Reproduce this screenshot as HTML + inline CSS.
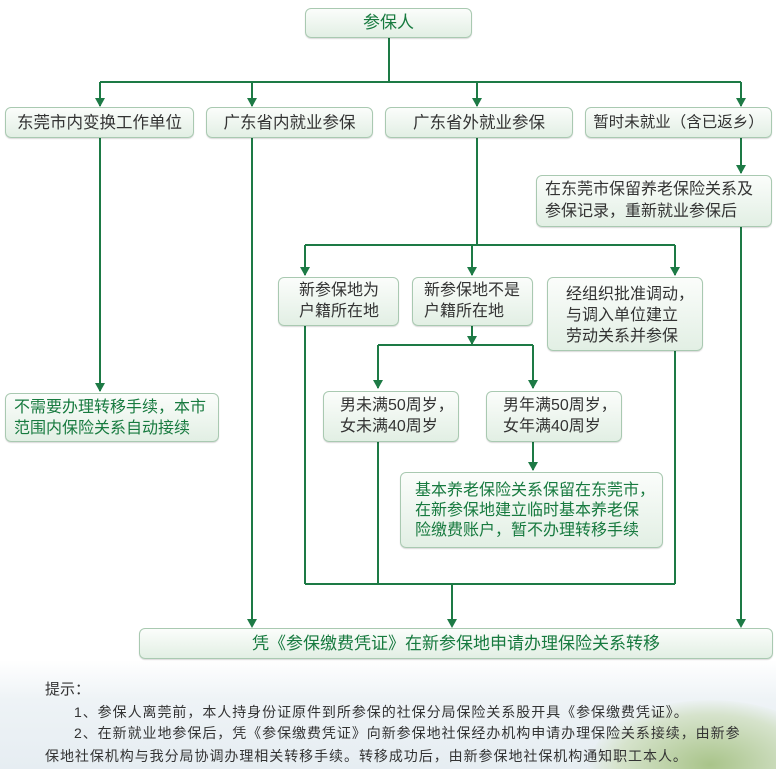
<!DOCTYPE html>
<html style="overflow:hidden;height:769px"><head><meta charset="utf-8"><style>
html,body{margin:0;width:776px;height:769px;overflow:hidden}
body{font-family:"Liberation Sans","Noto Sans CJK SC",sans-serif;position:relative;
background:linear-gradient(#fff 0,#fff 660px,#eef3f6 700px,#e6edf2 769px);}
.b{position:absolute;box-sizing:border-box;border:1px solid #a9c9b1;border-radius:6px;background:linear-gradient(#fbfdfb,#e2efe4);color:#333;font-size:16px;line-height:22px;box-shadow:0 1px 1px rgba(0,0,0,.15);white-space:nowrap}
.c{display:flex;align-items:center;justify-content:center;text-align:center}
.g{color:#177a3f}
svg{position:absolute;left:0;top:0}
.t{position:absolute;font-size:14px;color:#333;line-height:18px;white-space:nowrap;letter-spacing:0.95px}
</style></head><body>
<div style="position:absolute;left:0;top:660px;width:776px;height:109px;overflow:hidden"><div style="position:absolute;left:590px;top:40px;width:240px;height:130px;border-radius:50%;background:radial-gradient(#a9c48a,#d6e3cc 55%,rgba(230,237,242,0) 72%)"></div></div>
<svg width="776" height="769" stroke="#1d7a45" stroke-width="2" fill="none">
<g>
<path d="M389,37V82M100,82H741"/>
<path d="M100,82V106M252,82V106M477,82V106M741,82V106" />
<path d="M741,137V173"/>
<path d="M477,137V245M305,245H675M305,245V275M472,245V275M675,245V275"/>
<path d="M472,325V345M378,345H533M378,345V388M533,345V388"/>
<path d="M533,441V470"/>
<path d="M305,325V584M378,441V584M675,350V584M305,584H675M452,584V626"/>
<path d="M100,137V391M252,137V626M741,226V626"/>
</g>
<g fill="#1d7a45" stroke="none">
<path d="M95,98h10l-5,9z"/><path d="M247,98h10l-5,9z"/><path d="M472,98h10l-5,9z"/><path d="M736,98h10l-5,9z"/>
<path d="M736,165h10l-5,9z"/>
<path d="M300,267h10l-5,9z"/><path d="M467,267h10l-5,9z"/><path d="M670,267h10l-5,9z"/>
<path d="M467,336h10l-5,9z"/>
<path d="M373,380h10l-5,9z"/><path d="M528,380h10l-5,9z"/>
<path d="M528,462h10l-5,9z"/>
<path d="M95,383h10l-5,9z"/>
<path d="M247,619h10l-5,9z"/><path d="M447,619h10l-5,9z"/><path d="M736,619h10l-5,9z"/>
</g>
</svg>
<div class="b c g" style="left:305px;top:8px;width:167px;height:30px;font-size:17px">参保人</div>
<div class="b c" style="left:5px;top:107px;width:189px;height:31px;font-size:16.5px">东莞市内变换工作单位</div>
<div class="b c" style="left:206px;top:107px;width:167px;height:31px;font-size:16.5px">广东省内就业参保</div>
<div class="b c" style="left:385px;top:107px;width:188px;height:31px;font-size:16.5px">广东省外就业参保</div>
<div class="b c" style="left:585px;top:107px;width:187px;height:31px;font-size:15.5px">暂时未就业（含已返乡）</div>
<div class="b" style="left:536px;top:175px;width:236px;height:52px;padding:3px 0 0 8px;line-height:22px;font-size:16px">在东莞市保留养老保险关系及<br>参保记录，重新就业参保后</div>
<div class="b" style="left:278px;top:277px;width:121px;height:49px;padding:2px 0 0 20px;line-height:21px">新参保地为<br>户籍所在地</div>
<div class="b" style="left:412px;top:277px;width:121px;height:49px;padding:2px 0 0 11px;line-height:21px">新参保地不是<br>户籍所在地</div>
<div class="b" style="left:547px;top:277px;width:156px;height:74px;padding:6px 0 0 18px;line-height:21px">经组织批准调动，<br>与调入单位建立<br>劳动关系并参保</div>
<div class="b" style="left:323px;top:391px;width:136px;height:51px;padding:3px 0 0 16px;line-height:21px">男未满50周岁，<br>女未满40周岁</div>
<div class="b" style="left:486px;top:391px;width:136px;height:51px;padding:3px 0 0 16px;line-height:21px">男年满50周岁，<br>女年满40周岁</div>
<div class="b g" style="left:400px;top:472px;width:263px;height:76px;padding:8px 0 0 14px;line-height:20px">基本养老保险关系保留在东莞市，<br>在新参保地建立临时基本养老保<br>险缴费账户，暂不办理转移手续</div>
<div class="b g" style="left:5px;top:393px;width:214px;height:49px;padding:3px 0 0 8px;line-height:21px">不需要办理转移手续，本市<br>范围内保险关系自动接续</div>
<div class="b c g" style="left:139px;top:628px;width:634px;height:31px;font-size:17px">凭《参保缴费凭证》在新参保地申请办理保险关系转移</div>
<div class="t g" style="left:45px;top:681px;font-size:15px;letter-spacing:0">提示：</div>
<div class="t" style="left:74px;top:703px">1、参保人离莞前，本人持身份证原件到所参保的社保分局保险关系股开具《参保缴费凭证》。</div>
<div class="t" style="left:74px;top:724px">2、在新就业地参保后，凭《参保缴费凭证》向新参保地社保经办机构申请办理保险关系接续，由新参</div>
<div class="t" style="left:45px;top:747px">保地社保机构与我分局协调办理相关转移手续。转移成功后，由新参保地社保机构通知职工本人。</div>
</body></html>
